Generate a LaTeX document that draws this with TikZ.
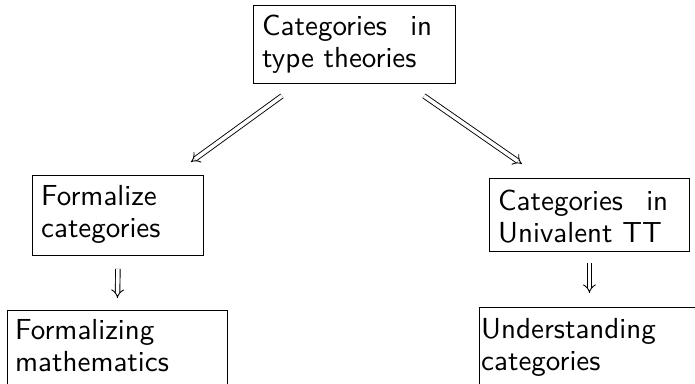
\documentclass[tikz,border=0pt]{standalone}
\usepackage{fontspec}
\newfontfamily\boxfont{lmsans10-regular}[Extension=.otf]
\usetikzlibrary{arrows.meta,calc}
\begin{document}
\begin{tikzpicture}[x=1pt,y=-1pt,
  box/.style={draw, line width=0.9pt, inner sep=0pt, anchor=north west},
  txt/.style={anchor=base west, inner sep=0pt, font=\boxfont\fontsize{29}{32.5}\selectfont},
  dbl/.style={double, double distance=3.6pt, line width=0.9pt, -{Implies[length=7pt,width=14pt]}},
]
\useasboundingbox (0,0) rectangle (695,383);
\clip (0,0) rectangle (695,383);
% boxes
\node[box, minimum width=202pt, minimum height=78pt] (top) at (253,5) {};
\node[txt] (topt) at (262,35) {\parbox[t]{170pt}{Categories\hfill in\\type theories}};
\node[box, minimum width=171pt, minimum height=80pt] (fl) at (32,175) {};
\node[txt] (flt) at (41,205) {\parbox[t]{150pt}{Formalize\\categories}};
\node[box, minimum width=200pt, minimum height=73pt] (ur) at (489,178) {};
\node[txt] (urt) at (498,210) {\parbox[t]{170pt}{Categories\hfill in\\Univalent TT}};
\node[box, minimum width=220pt, minimum height=100pt] (bl) at (7,310) {};
\node[txt] (blt) at (15,339) {\parbox[t]{210pt}{Formalizing\\mathematics}};
\node[box, minimum width=300pt, minimum height=100pt] (br) at (479,307) {};
\node[txt] (brt) at (481,338) {\parbox[t]{210pt}{Understanding\\categories}};
% arrows
\draw[dbl] ($(top.south west)+(29,12)$) -- ($(fl.north east)+(-13,-13)$);
\draw[dbl] ($(top.south east)+(-32,12)$) -- ($(ur.north west)+(33,-14)$);
\draw[dbl] ($(fl.south)+(0,13)$) -- ($(bl.north)+(0,-12)$);
\draw[dbl] ($(ur.south)+(0,11)$) -- ($(ur.south |- br.north)+(0,-14)$);
\end{tikzpicture}
\end{document}
